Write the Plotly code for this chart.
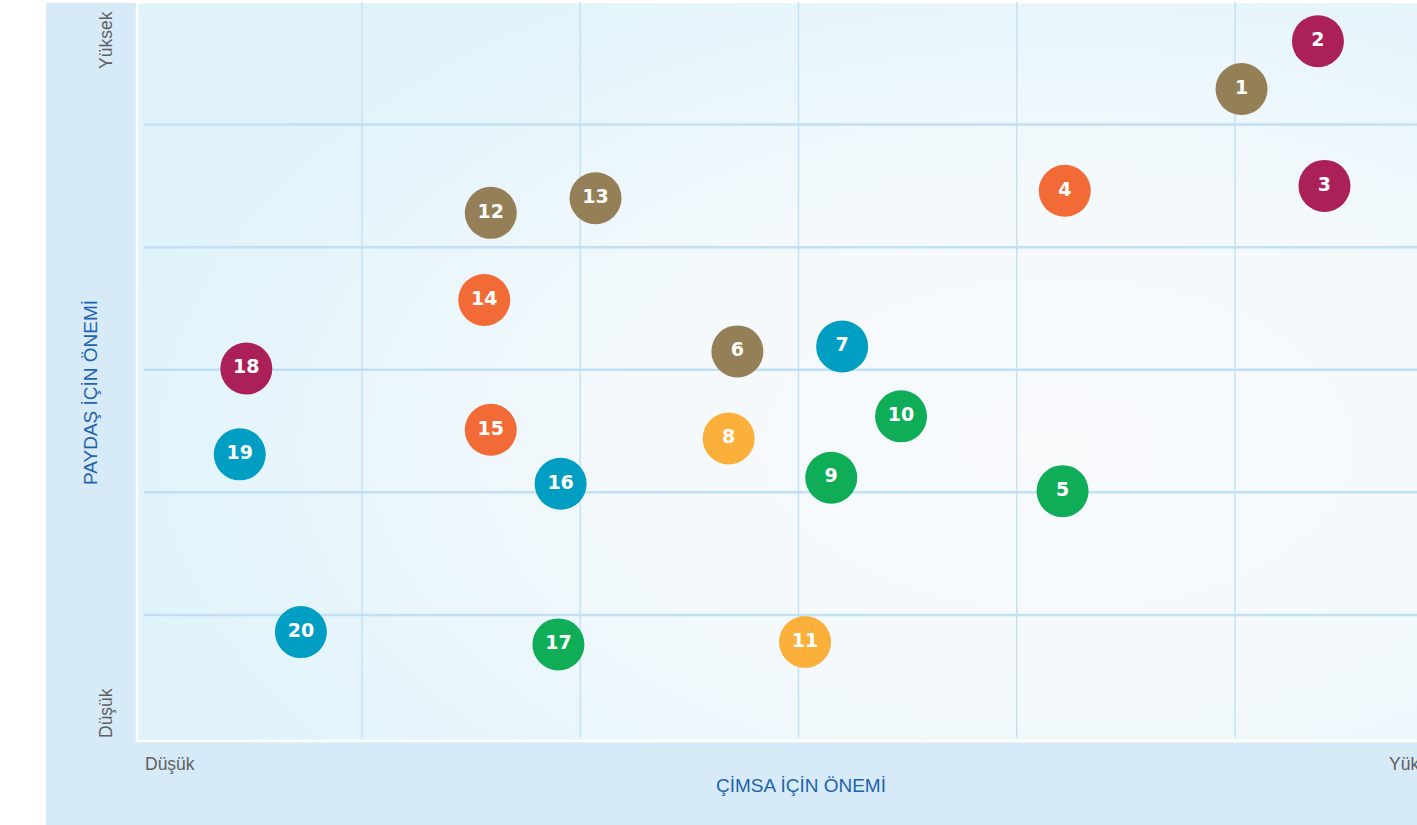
import base64
import plotly.graph_objects as go

# ---- data ----
labels = [str(i) for i in range(1, 21)]
x_vals = [5.03, 5.38, 5.41, 4.22, 4.21, 2.72, 3.20, 2.68, 3.15, 3.47,
          3.03, 1.59, 2.07, 1.56, 1.59, 1.91, 1.90, 0.47, 0.44, 0.72]
y_vals = [5.29, 5.68, 4.50, 4.46, 2.01, 3.15, 3.19, 2.44, 2.12, 2.62,
          0.78, 4.28, 4.40, 3.57, 2.51, 2.07, 0.76, 3.01, 2.31, 0.86]
groups = ["brown", "crimson", "crimson", "orange", "green", "brown", "teal", "yellow", "green", "green",
          "yellow", "brown", "brown", "orange", "orange", "teal", "green", "crimson", "teal", "teal"]
grid_x = [1, 2, 3, 4, 5, 6]
grid_y = [1, 2, 3, 4, 5]
x_title = "ÇİMSA İÇİN ÖNEMİ"
y_title = "PAYDAŞ İÇİN ÖNEMİ"
low_label = "Düşük"
high_label = "Yüksek"

palette = {
    "brown": "#947f56",
    "crimson": "#ab2059",
    "orange": "#f26b36",
    "teal": "#009ec3",
    "green": "#10ad58",
    "yellow": "#fbb03b",
}

W, H = 1417, 825
L, R, T, B = 138, 0, 2, 85
pw, ph = W - L - R, H - T - B

def px_x(p):
    return (p - L) / pw

def px_y(p):
    return (H - B - p) / ph

fig = go.Figure()

fig.add_trace(go.Scatter(
    x=x_vals, y=y_vals, mode="markers+text", text=labels,
    marker=dict(size=52, color=[palette[g] for g in groups], line=dict(width=0), opacity=1),
    textfont=dict(family="DejaVu Sans, Arial", size=19, color="white", weight="bold"),
    textposition="middle center", hoverinfo="skip", showlegend=False,
))

# gradient background of the plot area (SVG image)
svg = (
    '<svg xmlns="http://www.w3.org/2000/svg" width="1000" height="1000" viewBox="0 0 1000 1000" preserveAspectRatio="none">'
    '<defs><radialGradient id="g" cx="0.72" cy="0.6" r="0.75" fx="0.72" fy="0.6">'
    '<stop offset="0" stop-color="#f8fafc"/><stop offset="0.45" stop-color="#f4f9fc"/>'
    '<stop offset="1" stop-color="#e0f3fb"/></radialGradient></defs>'
    '<rect width="1000" height="1000" fill="url(#g)"/></svg>'
)
src = "data:image/svg+xml;base64," + base64.b64encode(svg.encode()).decode()
fig.add_layout_image(dict(source=src, xref="paper", yref="paper", x=0, y=1, sizex=1, sizey=1,
                          sizing="stretch", layer="below", xanchor="left", yanchor="top"))

shapes = []
# white strips outside the blue panel
shapes.append(dict(type="rect", xref="paper", yref="paper", x0=px_x(0), x1=px_x(46), y0=px_y(H), y1=px_y(0),
                   fillcolor="white", line=dict(width=0), layer="below"))
shapes.append(dict(type="rect", xref="paper", yref="paper", x0=px_x(0), x1=px_x(W), y0=px_y(3), y1=px_y(0),
                   fillcolor="white", line=dict(width=0), layer="below"))
# white frame around plot area
shapes.append(dict(type="rect", xref="paper", yref="paper", x0=px_x(137), x1=1.01, y0=px_y(741), y1=1.0,
                   fillcolor="rgba(0,0,0,0)", line=dict(color="white", width=2.5), layer="below"))
for gx in grid_x:
    shapes.append(dict(type="line", xref="x", yref="y", x0=gx, x1=gx, y0=0, y1=6.1,
                       line=dict(color="#c3e2f6", width=1.5), layer="below"))
for gy in grid_y:
    shapes.append(dict(type="line", xref="x", yref="y", x0=0, x1=6.5, y0=gy, y1=gy,
                       line=dict(color="#c0e0f5", width=2.5), layer="below"))

gray = dict(family="Liberation Sans, Arial", size=17.5, color="#606060")
blue = dict(family="Liberation Sans, Arial", size=19, color="#1e63ad")
annotations = [
    dict(text=high_label, x=px_x(106), y=px_y(40), textangle=-90, font=gray),
    dict(text=low_label, x=px_x(106), y=px_y(713), textangle=-90, font=gray),
    dict(text=low_label, x=px_x(143), y=px_y(764), xanchor="left", font=gray),
    dict(text=high_label, x=px_x(1387), y=px_y(764), xanchor="left", font=gray),
    dict(text=x_title, x=px_x(801), y=px_y(785), font=blue),
    dict(text=y_title, x=px_x(90), y=px_y(393), textangle=-90, font=blue),
]
for a in annotations:
    a.setdefault("xanchor", "center")
    a.update(xref="paper", yref="paper", yanchor="middle", showarrow=False)

fig.update_layout(
    width=W, height=H, margin=dict(l=L, r=R, t=T, b=B, pad=0),
    paper_bgcolor="#d6eaf8", plot_bgcolor="rgba(0,0,0,0)",
    xaxis=dict(range=[(L - 143.75) / 218.25, (W - 143.75) / 218.25], visible=False, fixedrange=True),
    yaxis=dict(range=[-0.02, 6.0], visible=False, fixedrange=True),
    shapes=shapes, annotations=annotations,
)

fig.write_html("out.html", config={"displayModeBar": False},
               post_script="document.body.style.margin='0px';")
